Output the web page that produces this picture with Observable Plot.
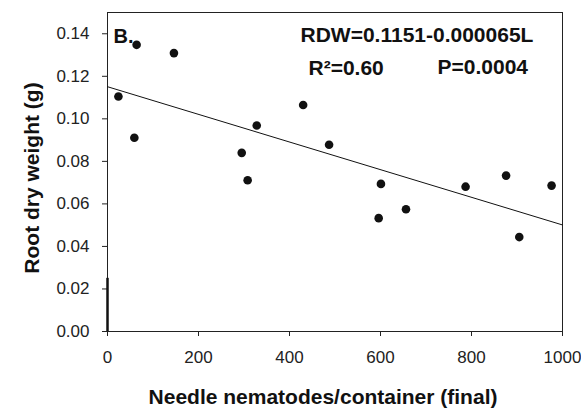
<!DOCTYPE html>
<html>
<head>
<meta charset="utf-8">
<script src="https://cdn.jsdelivr.net/npm/d3@7"></script>
<script src="https://cdn.jsdelivr.net/npm/@observablehq/plot@0.6"></script>
<style>
  html, body { margin: 0; padding: 0; background: #fff; }
</style>
</head>
<body>
<div id="chart"></div>
<script>
// Data
const nematodes = [24, 59, 64, 146, 295, 308, 328, 430, 487, 596, 601, 656, 787, 876, 905, 976];
const rootDryWeight = [0.1105, 0.0911, 0.1348, 0.1309, 0.0840, 0.0711, 0.0969, 0.1065, 0.0878, 0.0533, 0.0694, 0.0575, 0.0681, 0.0733, 0.0444, 0.0686];

// Regression line RDW = 0.1151 - 0.000065 L
const fitX = [0, 1000];
const fitY = [0.1151, 0.0501];

// Short thick segment on the y axis near the origin
const stubY = [0, 0.025];

const xTicks = [0, 200, 400, 600, 800, 1000];
const yTicks = [0, 0.02, 0.04, 0.06, 0.08, 0.10, 0.12, 0.14];

const xLabel = "Needle nematodes/container (final)";
const yLabel = "Root dry weight (g)";
const panelLabel = "B.";
const eqLabel = "RDW=0.1151-0.000065L";
const r2Label = "R\u00B2=0.60";
const pLabel = "P=0.0004";

const points = nematodes.map((x, i) => ({x, y: rootDryWeight[i]}));
const fit = fitX.map((x, i) => ({x, y: fitY[i]}));

const bold = {fontSize: 21, fontWeight: "bold", fill: "#111", lineAnchor: "bottom"};

const chart = Plot.plot({
  width: 581,
  height: 408,
  marginLeft: 107,
  marginRight: 19,
  marginTop: 12,
  marginBottom: 77,
  style: {fontFamily: "'Liberation Sans', Arial, Helvetica, sans-serif", background: "#fff", color: "#222", overflow: "visible"},
  x: {domain: [0, 1000]},
  y: {domain: [0, 0.15]},
  marks: [
    Plot.frame({stroke: "#222", strokeWidth: 1}),
    Plot.axisX({ticks: xTicks, tickSize: 5, tickPadding: 14, fontSize: 17, label: null, tickFormat: d3.format("d"), stroke: "#222", fill: "#222"}),
    Plot.axisY({ticks: yTicks, tickSize: 5, tickPadding: 13, fontSize: 17, label: null, tickFormat: d3.format(".2f"), stroke: "#222", fill: "#222"}),
    Plot.ruleX([0], {y1: stubY[0], y2: stubY[1], stroke: "#111", strokeWidth: 2.5}),
    Plot.line(fit, {x: "x", y: "y", stroke: "#111", strokeWidth: 1}),
    Plot.dot(points, {x: "x", y: "y", r: 4.3, fill: "#111", stroke: "none"}),
    Plot.text([panelLabel], {frameAnchor: "top-left", textAnchor: "start", dx: 6, dy: 30, ...bold, fontSize: 20}),
    Plot.text([eqLabel], {frameAnchor: "top-left", textAnchor: "start", dx: 193, dy: 29, ...bold}),
    Plot.text([r2Label], {frameAnchor: "top-left", textAnchor: "start", dx: 201, dy: 62, ...bold}),
    Plot.text([pLabel], {frameAnchor: "top-left", textAnchor: "start", dx: 330, dy: 61, ...bold}),
    Plot.text([xLabel], {frameAnchor: "bottom", textAnchor: "middle", dx: -12, dy: 72, ...bold}),
    Plot.text([yLabel], {frameAnchor: "left", textAnchor: "middle", rotate: -90, dx: -69, dy: 6, ...bold})
  ]
});

document.getElementById("chart").appendChild(chart);
</script>
</body>
</html>
